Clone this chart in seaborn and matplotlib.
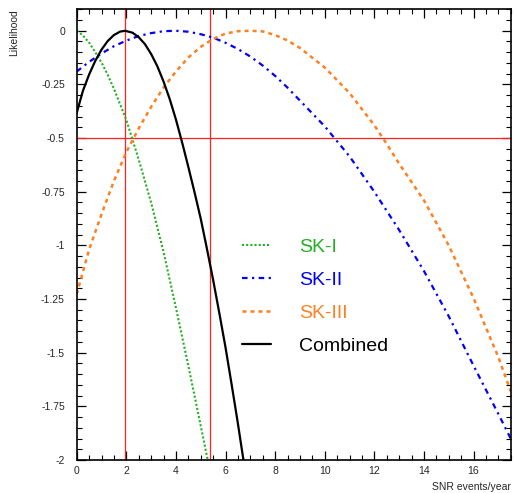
import numpy as np
import pandas as pd
import matplotlib
matplotlib.use("Agg")
import matplotlib.pyplot as plt
from matplotlib.ticker import MultipleLocator, FixedLocator
import seaborn as sns

# ---- data ----
sk1_x = [0, 0.25, 0.5, 0.75, 1.0, 1.25, 1.5, 2.0, 2.5, 3.0, 3.5, 4.0, 4.5, 5.0, 5.3, 5.5]
sk1_y = [0, -0.022, -0.055, -0.100, -0.148, -0.205, -0.27, -0.415, -0.60, -0.80,
         -1.03, -1.29, -1.56, -1.84, -2.01, -2.13]

sk2_x = [0, 0.5, 1, 1.5, 2, 2.5, 3, 3.5, 4, 4.5, 5, 5.5, 6, 6.5, 7, 7.5, 8, 8.5, 9,
         10, 11, 12, 13, 14, 15, 16, 17, 17.5]
sk2_y = [-0.19, -0.145, -0.106, -0.072, -0.046, -0.0245, -0.011, -0.002, 0, -0.0045,
         -0.016, -0.032, -0.056, -0.085, -0.12, -0.162, -0.21, -0.265, -0.325,
         -0.445, -0.585, -0.75, -0.928, -1.119, -1.33, -1.56, -1.785, -1.90]

sk3_x = [0, 0.5, 1, 1.5, 2, 2.5, 3, 3.5, 4, 4.5, 5, 5.5, 6, 6.5, 7, 7.5, 8, 8.5, 9,
         10, 11, 12, 12.5, 13, 14, 15, 16, 17, 17.5]
sk3_y = [-1.227, -1.02, -0.855, -0.70, -0.565, -0.455, -0.355, -0.265, -0.19, -0.125,
         -0.075, -0.038, -0.013, -0.002, 0, -0.003, -0.02, -0.045, -0.08,
         -0.171, -0.29, -0.44, -0.527, -0.619, -0.79, -1.00, -1.245, -1.52, -1.68]

comb_x = [0, 0.25, 0.5, 0.75, 1.0, 1.25, 1.5, 1.75, 1.95, 2.25, 2.5, 2.75, 3.0, 3.25,
          3.5, 3.75, 4.0, 4.25, 4.5, 4.75, 5.0, 5.25, 5.5, 5.75, 6.0, 6.25, 6.5, 6.75, 7.0]
comb_y = [-0.383, -0.28, -0.204, -0.140, -0.088, -0.048, -0.02, -0.004, 0, -0.009,
          -0.03, -0.062, -0.108, -0.165, -0.236, -0.318, -0.413, -0.52, -0.634, -0.752,
          -0.875, -1.015, -1.16, -1.315, -1.475, -1.65, -1.83, -2.02, -2.23]

limit_x = [1.95, 5.36]
threshold_y = -0.5

series_names = ["SK-I", "SK-II", "SK-III", "Combined"]
series_colors = ["#22b022", "#0000ff", "#ff8020", "#000000"]

xtick_vals = [0, 2, 4, 6, 8, 10, 12, 14, 16]
xtick_labels = ["0", "2", "4", "6", "8", "10", "12", "14", "16"]
ytick_vals = [0, -0.25, -0.5, -0.75, -1, -1.25, -1.5, -1.75, -2]
ytick_labels = ["0", "-0.25", "-0.5", "-0.75", "-1", "-1.25", "-1.5", "-1.75", "-2"]

# ---- style ----
sns.set_style("ticks")
plt.rcParams["font.family"] = ["Liberation Sans", "DejaVu Sans"]
plt.rcParams["axes.unicode_minus"] = False

fig = plt.figure(figsize=(5.16, 4.93), dpi=100)
ax = fig.add_axes([76.7 / 516, 33 / 493, (510.7 - 76.7) / 516, (460 - 9.3) / 493])

styles = [
    dict(linestyle=(0, (1, 1)), lw=1.5),
    dict(linestyle=(0, (2.5, 2, 1, 2)), lw=1.6),
    dict(linestyle=(0, (1.6, 1.6)), lw=1.8),
    dict(linestyle="-", lw=1.6),
]
xs = [sk1_x, sk2_x, sk3_x, comb_x]
ys = [sk1_y, sk2_y, sk3_y, comb_y]

for i in range(4):
    df = pd.DataFrame({"x": xs[i], "y": ys[i]})
    sns.lineplot(data=df, x="x", y="y", ax=ax, color=series_colors[i],
                 label=series_names[i], **styles[i])

for lx in limit_x:
    ax.axvline(lx, color="#ff2020", lw=0.9, zorder=1)
ax.axhline(threshold_y, color="#ff2020", lw=0.9, zorder=1)

ax.set_xlim(0, 17.5)
ax.set_ylim(-2, 0.1)
ax.set_xlabel("")
ax.set_ylabel("")

ax.xaxis.set_major_locator(FixedLocator(xtick_vals))
ax.set_xticklabels(xtick_labels)
ax.xaxis.set_minor_locator(MultipleLocator(0.5))
ax.yaxis.set_major_locator(FixedLocator(ytick_vals))
ax.set_yticklabels(ytick_labels)
ax.yaxis.set_minor_locator(MultipleLocator(0.05))

ax.tick_params(which="both", direction="in", top=True, right=True, color="black")
ax.tick_params(which="major", length=6.5, width=0.9, labelsize=7.5)
ax.tick_params(which="minor", length=3.3, width=0.8)
ax.tick_params(axis="y", which="major", pad=8.5)
ax.tick_params(axis="x", which="major", pad=4)

for s in ax.spines.values():
    s.set_visible(True)
    s.set_linewidth(1.2)
    s.set_color("black")

fig.text(14 / 516, 1 - 9.5 / 493, "Likelihood", rotation=90, ha="center", va="top", fontsize=7.5)
fig.text(511 / 516, 1 - 486.7 / 493, "SNR events/year", ha="right", va="center", fontsize=7.5)

leg = ax.legend(loc="upper left", bbox_to_anchor=(241.7 / 516, 1 - 238 / 493),
                bbox_transform=fig.transFigure, frameon=False, fontsize=14,
                handlelength=1.5, handletextpad=1.45, labelspacing=0.79,
                borderpad=0, borderaxespad=0, labelcolor=series_colors)

fig.savefig("out.png", dpi=100)
